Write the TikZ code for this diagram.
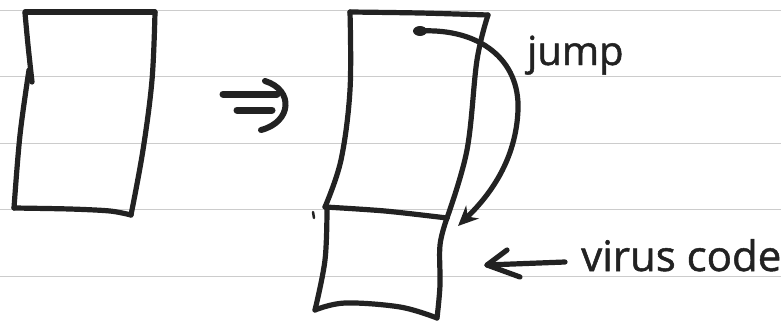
\documentclass[tikz,border=0pt]{standalone}
\usepackage{fontspec}
\setmainfont{Open Sans}
\newfontfamily\handfont[FakeBold=1.2]{Open Sans}
\usetikzlibrary{arrows.meta}
\definecolor{inkc}{HTML}{222222}
\begin{document}
\begin{tikzpicture}[x=1pt,y=-1pt,
  ink/.style={line width=5.2pt, line cap=round, line join=round, draw=inkc},
  rule/.style={draw=gray!40, line width=0.7pt},
  hand/.style={font=\handfont\fontsize{40}{40}\selectfont, text=inkc, inner sep=0pt, anchor=base west}]
\useasboundingbox (0,0) rectangle (781,324);
\fill[white] (0,0) rectangle (781,324);
% ruled paper lines
\foreach \y in {10,76,143,209,276} \draw[rule] (0,\y) -- (781,\y);
% left box (original program)
\draw[ink] (25,12) -- (155,12);
\draw[ink] plot[smooth, tension=0.6] coordinates {(155,12) (152,80) (143,150) (131,215)};
\draw[ink] plot[smooth, tension=0.5] coordinates {(14,208) (70,209) (110,211) (131,215)};
\draw[ink] plot[smooth, tension=0.6] coordinates {(25,13) (28,45) (32,82)};
\draw[ink] plot[smooth, tension=0.6] coordinates {(29,70) (20,135) (14,208)};
% implies symbol
\draw[ink, line width=7pt] (223,94) -- (277,94);
\draw[ink, line width=7pt] (237,110) -- (272,110);
\draw[ink, line width=6pt] (265,81) .. controls (294,90) and (292,122) .. (261,130);
% right box (infected program)
\draw[ink] plot[smooth, tension=0.5] coordinates {(350,12) (420,13) (488,15)};
\draw[ink] plot[smooth, tension=0.6] coordinates {(488,15) (477,60) (467,150) (447,218)};
\draw[ink] plot[smooth, tension=0.6] coordinates {(350,12) (350,90) (341,160) (325,207)};
\draw[ink] plot[smooth, tension=0.5] coordinates {(325,207) (385,211) (447,218)};
% virus code box
\draw[ink] plot[smooth, tension=0.6] coordinates {(327,208) (325,260) (315,310)};
\draw[ink] plot[smooth, tension=0.6] coordinates {(315,310) (345,303) (400,307) (437,318)};
\draw[ink] plot[smooth, tension=0.6] coordinates {(447,218) (440,245) (440,285) (437,318)};
\draw[ink, line width=2.5pt] (313,212) -- (314,218);
% jump arrow
\coordinate (js) at (420,31);
\coordinate (je) at (458,226);
\fill[inkc] (js) ellipse (7pt and 5pt);
\draw[ink, -{Stealth[length=20pt,width=18pt]}] (js) .. controls (480,28) and (520,60) .. (518,110)
   .. controls (516,160) and (490,195) .. (je);
\node[hand] (jump) at (527,65) {jump};
% virus code label with arrow
\node[hand, font=\handfont\fontsize{42}{42}\selectfont] (virus) at (581,271) {virus code};
\coordinate (ve) at (487,265);
\draw[ink] (565,262) -- (ve);
\draw[ink] (507,250) -- (ve) -- (520,277);
\end{tikzpicture}
\end{document}
